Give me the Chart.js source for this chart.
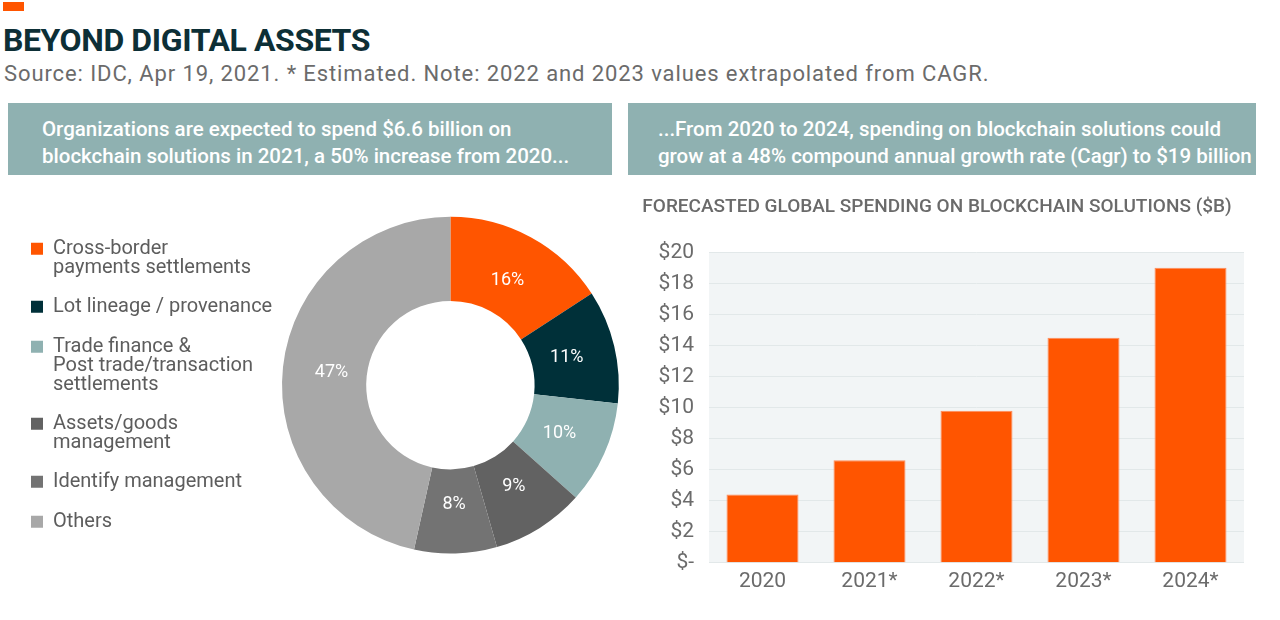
<!DOCTYPE html>
<html>
<head>
<meta charset="utf-8">
<script src="https://cdn.jsdelivr.net/npm/chart.js@4.4.1/dist/chart.umd.min.js"></script>
<style>
  body { margin: 0; background: #fff; font-family: Roboto, sans-serif; }
  #page { position: relative; width: 1280px; height: 620px; overflow: hidden; }
  .flag { position: absolute; left: 3px; top: 2px; width: 21px; height: 9px; background: #ff5500; }
  h1 { position: absolute; left: 3px; top: 24px; margin: 0; font-size: 32px; line-height: 32px; font-weight: 700; color: #0d2f36; letter-spacing: -0.4px; }
  .source { position: absolute; left: 4px; top: 63px; font-size: 22px; line-height: 22px; color: #6b6b6b; letter-spacing: 0.9px; white-space: nowrap; }
  .note { position: absolute; top: 103px; height: 72px; box-sizing: border-box; padding-top: 13px; background: #8fb1b1; color: #fff; font-size: 20.5px; line-height: 27px; font-weight: 500; white-space: nowrap; }
  #noteLeft { left: 8px; width: 604px; padding-left: 34px; }
  #noteRight { left: 628px; width: 628px; padding-left: 30px; }
  .box { position: absolute; }
</style>
</head>
<body>
<div id="page">
  <div class="flag"></div>
  <h1>BEYOND DIGITAL ASSETS</h1>
  <div class="source">Source: IDC, Apr 19, 2021. * Estimated. Note: 2022 and 2023 values extrapolated from CAGR.</div>
  <div class="note" id="noteLeft">Organizations are expected to spend $6.6 billion on<br>blockchain solutions in 2021, a 50% increase from 2020...</div>
  <div class="note" id="noteRight">...From 2020 to 2024, spending on blockchain solutions could<br>grow at a 48% compound annual growth rate (Cagr) to $19 billion</div>
  <div class="box" style="left:0;top:185px;width:640px;height:415px"><canvas id="donut"></canvas></div>
  <div class="box" style="left:630px;top:185px;width:630px;height:415px"><canvas id="bars"></canvas></div>
</div>
<script>
/*--------------------DATA--------------------*/
const useCases = [
    ['Cross-border', 'payments settlements'],
    'Lot lineage / provenance',
    ['Trade finance &', 'Post trade/transaction', 'settlements'],
    ['Assets/goods', 'management'],
    'Identify management',
    'Others'
];
const useShares = [16, 11, 10, 9, 8, 47];
const useColors = ['#ff5500', '#003039', '#8fb1b1', '#626262', '#737373', '#a8a8a8'];

const years = ['2020', '2021*', '2022*', '2023*', '2024*'];
const spending = [4.4, 6.6, 9.8, 14.5, 19.0];
const yTickLabels = ['$-', '$2', '$4', '$6', '$8', '$10', '$12', '$14', '$16', '$18', '$20'];

Chart.defaults.font.family = 'Roboto';
Chart.defaults.animation = false;

/*--------------------PLUGINS--------------------*/
// fixed legend width so the ring sits where it should
const legendWidth = {
    id: 'legendWidth',
    beforeLayout(chart) {
        let legend = chart.legend;
        if (!legend || legend._fixed) return;
        let fit = legend.fit;
        legend.fit = function () { fit.call(this); this.width = 271; };
        legend._fixed = true;
    }
};

const sliceLabels = {
    id: 'sliceLabels',
    afterDatasetsDraw(chart) {
        let ctx = chart.ctx;
        let meta = chart.getDatasetMeta(0);
        ctx.save();
        ctx.fillStyle = '#fff';
        ctx.font = '18px Roboto';
        ctx.textAlign = 'center';
        ctx.textBaseline = 'middle';
        meta.data.forEach((arc, i) => {
            let p = arc.getProps(['x', 'y', 'startAngle', 'endAngle', 'innerRadius', 'outerRadius'], true);
            let a = (p.startAngle + p.endAngle) / 2;
            let r = p.innerRadius + (p.outerRadius - p.innerRadius) * 0.42;
            ctx.fillText(useShares[i] + '%', p.x + Math.cos(a) * r, p.y + Math.sin(a) * r);
        });
        ctx.restore();
    }
};

const plotBg = {
    id: 'plotBg',
    beforeDraw(chart) {
        let { ctx, chartArea: a } = chart;
        ctx.save();
        ctx.fillStyle = '#f2f5f6';
        ctx.fillRect(a.left, a.top, a.width, a.height);
        ctx.restore();
    }
};

/*--------------------CHARTS--------------------*/
new Chart(document.getElementById('donut'), {
    type: 'doughnut',
    data: {
        labels: useCases,
        datasets: [{
            data: useShares,
            backgroundColor: useColors,
            borderWidth: 0,
            hoverOffset: 0
        }]
    },
    options: {
        responsive: true,
        maintainAspectRatio: false,
        cutout: '50%',
        layout: { padding: { left: 11, top: 31.7, bottom: 46.3, right: 21.2 } },
        plugins: {
            tooltip: { enabled: false },
            legend: {
                position: 'left',
                align: 'center',
                labels: {
                    boxWidth: 12,
                    boxHeight: 12,
                    padding: 20,
                    color: '#5d5d5d',
                    font: { size: 20, lineHeight: 0.95 }
                }
            }
        }
    },
    plugins: [legendWidth, sliceLabels]
});

new Chart(document.getElementById('bars'), {
    type: 'bar',
    data: {
        labels: years,
        datasets: [{
            data: spending,
            backgroundColor: '#ff5500',
            borderColor: '#ff8c5a',
            borderWidth: 1,
            barPercentage: 0.673,
            categoryPercentage: 1
        }]
    },
    options: {
        responsive: true,
        maintainAspectRatio: false,
        layout: { padding: { left: 0, right: 16, top: 0, bottom: 0 } },
        plugins: {
            legend: { display: false },
            tooltip: { enabled: false },
            title: {
                display: true,
                text: 'FORECASTED GLOBAL SPENDING ON BLOCKCHAIN SOLUTIONS ($B)',
                color: '#6a6a6a',
                font: { size: 19, weight: '500', lineHeight: 1.2 },
                padding: { top: 10.6, bottom: 33.9 }
            }
        },
        scales: {
            x: {
                grid: { display: false, drawTicks: false },
                border: { display: false },
                ticks: { color: '#6b6b6b', font: { size: 21 }, padding: 6 }
            },
            y: {
                min: 0,
                max: 20,
                afterFit: s => { s.width = 79; },
                grid: { color: '#e2e8e9', lineWidth: 1, drawTicks: false },
                border: { display: false },
                ticks: {
                    stepSize: 2,
                    color: '#6b6b6b',
                    font: { size: 21 },
                    padding: 15,
                    callback: (v, i) => yTickLabels[i]
                }
            }
        }
    },
    plugins: [plotBg]
});
</script>
</body>
</html>
